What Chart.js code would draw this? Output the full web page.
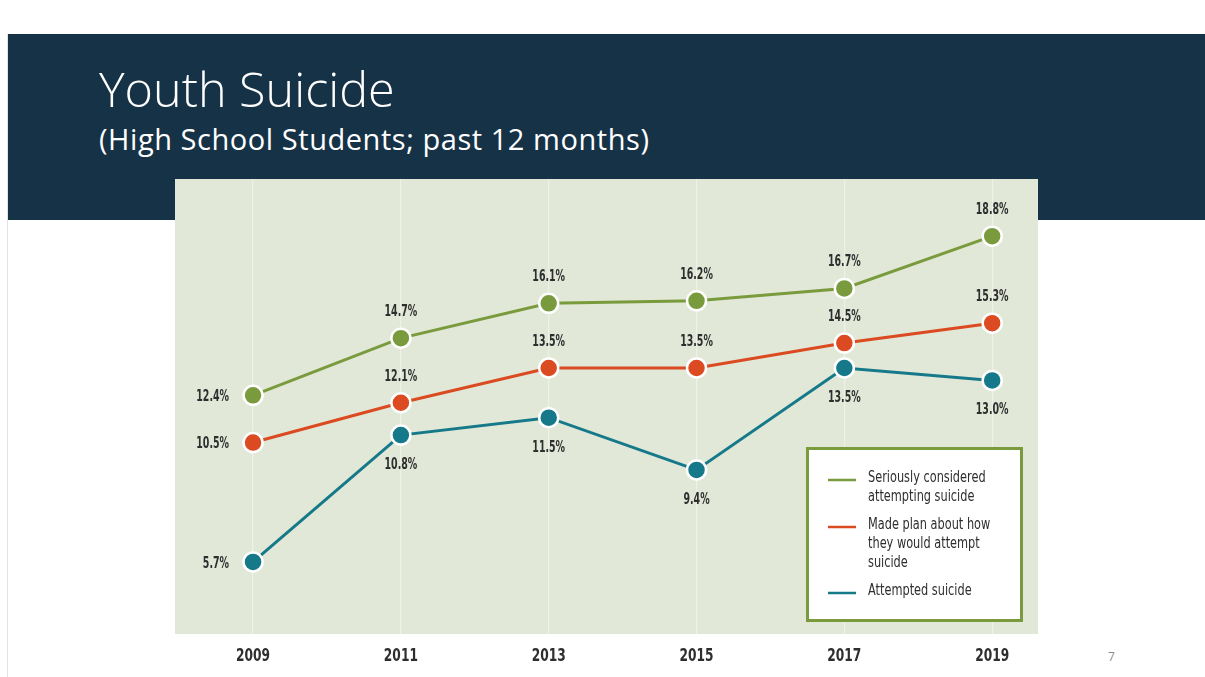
<!DOCTYPE html>
<html>
<head>
<meta charset="utf-8">
<script src="https://cdn.jsdelivr.net/npm/chart.js@4.4.1/dist/chart.umd.min.js"></script>
<style>
  html, body { margin: 0; padding: 0; background: #ffffff; }
  body { width: 1205px; height: 677px; position: relative; overflow: hidden; }
  #slide { position: absolute; left: 7px; top: 34px; width: 1198px; height: 643px; border-left: 1px solid #e4e4e4; }
  #banner { position: absolute; left: 8px; top: 34px; width: 1197px; height: 186px; background: #163247; }
  #title { position: absolute; left: 99px; top: 58px; color: #ffffff; font-family: "Open Sans", sans-serif; font-weight: 300; font-size: 48.5px; line-height: 60px; white-space: nowrap; }
  #subtitle { position: absolute; left: 99px; top: 119px; color: #ffffff; font-family: "Open Sans", sans-serif; font-weight: 400; font-size: 29px; letter-spacing: 0.55px; line-height: 40px; white-space: nowrap; }
  #page { position: absolute; left: 1108px; top: 648px; color: #8a8a8a; font-family: "Open Sans", sans-serif; font-size: 12px; }
  #wrap { position: absolute; left: 0; top: 0; width: 1205px; height: 677px; }
</style>
</head>
<body>
<div id="slide"></div>
<div id="banner"></div>
<div id="title">Youth Suicide</div>
<div id="subtitle">(High School Students; past 12 months)</div>
<div id="page">7</div>
<div id="wrap"><canvas id="c" width="1205" height="677"></canvas></div>
<script>
// ---- data ----
const years = [2009, 2011, 2013, 2015, 2017, 2019];
const consideredValues = [12.4, 14.7, 16.1, 16.2, 16.7, 18.8];
const plannedValues = [10.5, 12.1, 13.5, 13.5, 14.5, 15.3];
const attemptedValues = [5.7, 10.8, 11.5, 9.4, 13.5, 13.0];
const seriesLabels = [
  ["Seriously considered", "attempting suicide"],
  ["Made plan about how", "they would attempt", "suicide"],
  ["Attempted suicide"]
];

// ---- styles ----
const GREEN = '#7a9b3d';
const ORANGE = '#db4a20';
const TEAL = '#16798a';
const PANEL = '#e1e8d8';
const TEXT = '#2e2e2e';
const NARROW = '"Liberation Sans Narrow", "DejaVu Sans Condensed", sans-serif';

function toPoints(vals) { return years.map((y, i) => ({ x: y, y: vals[i] })); }

function makeDataset(label, vals, color, labelPos) {
  return {
    label: label,
    data: toPoints(vals),
    borderColor: color,
    backgroundColor: color,
    borderWidth: 3,
    pointRadius: 9.5,
    pointHoverRadius: 9.5,
    pointBorderColor: '#ffffff',
    pointBackgroundColor: color,
    pointBorderWidth: 2.5,
    tension: 0,
    labelPos: labelPos
  };
}

// draw text squeezed horizontally (condensed look)
function squeezeText(ctx, txt, x, y, sx) {
  ctx.save();
  ctx.translate(x, y);
  ctx.scale(sx, 1);
  ctx.fillText(txt, 0, 0);
  ctx.restore();
}

const panelPlugin = {
  id: 'panel',
  beforeDraw(chart) {
    const { ctx, chartArea: a } = chart;
    ctx.save();
    ctx.fillStyle = PANEL;
    ctx.fillRect(a.left, a.top, a.right - a.left, a.bottom - a.top);
    ctx.restore();
  }
};

const yearLabelPlugin = {
  id: 'yearLabels',
  afterDraw(chart) {
    const { ctx, chartArea: a } = chart;
    const xs = chart.scales.x;
    ctx.save();
    ctx.font = 'bold 17px ' + NARROW;
    ctx.fillStyle = TEXT;
    ctx.textAlign = 'center';
    ctx.textBaseline = 'middle';
    xs.ticks.forEach(t => {
      squeezeText(ctx, String(t.value), xs.getPixelForValue(t.value), a.bottom + 23, 0.8);
    });
    ctx.restore();
  }
};

const valueLabelPlugin = {
  id: 'valueLabels',
  afterDatasetsDraw(chart) {
    const { ctx } = chart;
    ctx.save();
    ctx.font = 'bold 15px ' + NARROW;
    ctx.fillStyle = TEXT;
    chart.data.datasets.forEach((ds, di) => {
      const meta = chart.getDatasetMeta(di);
      meta.data.forEach((pt, i) => {
        const txt = ds.data[i].y.toFixed(1) + '%';
        let x = pt.x, y = pt.y;
        ctx.textBaseline = 'middle';
        if (i === 0) {
          ctx.textAlign = 'right';
          x -= 24; y += 2;
        } else if (ds.labelPos === 'above') {
          ctx.textAlign = 'center';
          y -= 26;
        } else {
          ctx.textAlign = 'center';
          y += 30;
        }
        squeezeText(ctx, txt, x, y, 0.7);
      });
    });
    ctx.restore();
  }
};

const boxLegendPlugin = {
  id: 'boxLegend',
  afterDraw(chart) {
    const { ctx, chartArea: a } = chart;
    const w = 217, h = 175;
    const x0 = a.right - 15 - w, y0 = a.bottom - 12 - h;
    ctx.save();
    ctx.fillStyle = '#ffffff';
    ctx.fillRect(x0, y0, w, h);
    ctx.strokeStyle = GREEN;
    ctx.lineWidth = 3;
    ctx.strokeRect(x0 + 1.5, y0 + 1.5, w - 3, h - 3);
    ctx.font = '15px ' + NARROW;
    ctx.fillStyle = TEXT;
    ctx.textAlign = 'left';
    ctx.textBaseline = 'middle';
    const lineH = 19, gap = 9;
    let y = y0 + 31;
    chart.data.datasets.forEach((ds) => {
      ctx.strokeStyle = ds.borderColor;
      ctx.lineWidth = 2.5;
      ctx.beginPath();
      ctx.moveTo(x0 + 22, y + 2);
      ctx.lineTo(x0 + 50, y + 2);
      ctx.stroke();
      ds.label.forEach((line, li) => {
        squeezeText(ctx, line, x0 + 62, y + li * lineH, 0.84);
      });
      y += ds.label.length * lineH + gap;
    });
    ctx.restore();
  }
};

new Chart(document.getElementById('c'), {
  type: 'line',
  data: {
    datasets: [
      makeDataset(seriesLabels[0], consideredValues, GREEN, 'above'),
      makeDataset(seriesLabels[1], plannedValues, ORANGE, 'above'),
      makeDataset(seriesLabels[2], attemptedValues, TEAL, 'below')
    ]
  },
  options: {
    responsive: false,
    animation: false,
    events: [],
    layout: { padding: { left: 175, right: 167, top: 179, bottom: 0 } },
    plugins: { legend: { display: false }, tooltip: { enabled: false } },
    scales: {
      x: {
        type: 'linear',
        min: 2007.944,
        max: 2019.62,
        afterBuildTicks(scale) { scale.ticks = years.map(v => ({ value: v })); },
        afterFit(scale) { scale.height = 43; },
        border: { display: false },
        grid: { color: '#edf1e6', lineWidth: 1.2, drawTicks: false },
        ticks: { display: false }
      },
      y: {
        type: 'linear',
        min: 2.8,
        max: 21.1,
        display: false
      }
    }
  },
  plugins: [panelPlugin, valueLabelPlugin, boxLegendPlugin, yearLabelPlugin]
});
</script>
</body>
</html>
